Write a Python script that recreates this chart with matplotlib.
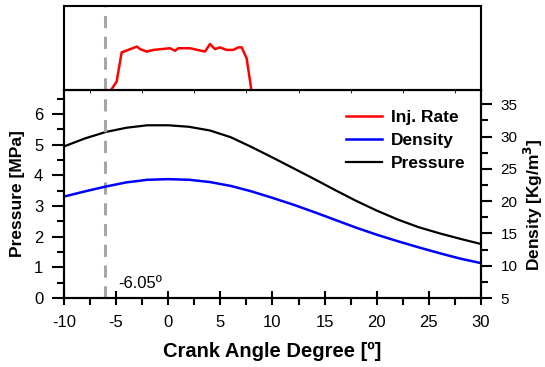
import numpy as np
import matplotlib.pyplot as plt
from matplotlib.ticker import MultipleLocator

plt.rcParams['font.family'] = ['Liberation Sans', 'DejaVu Sans']
plt.rcParams['axes.unicode_minus'] = False

# crank angle (deg) and pressure (MPa), density (kg/m3)
angle = [-10, -8, -6, -4, -2, 0, 2, 4, 6, 8, 10, 12, 14, 16, 18, 20, 22, 24, 26, 28, 30]
pressure = [4.94, 5.2, 5.41, 5.55, 5.63, 5.63, 5.58, 5.46, 5.24, 4.92, 4.58, 4.23, 3.88, 3.52, 3.17, 2.85, 2.56, 2.31, 2.11, 1.93, 1.76]
density = [20.7, 21.5, 22.25, 22.9, 23.3, 23.4, 23.3, 22.95, 22.35, 21.5, 20.5, 19.45, 18.3, 17.1, 15.9, 14.8, 13.8, 12.85, 11.95, 11.1, 10.4]

# injection rate (normalised, top panel)
inj_angle = [-5.6, -4.95, -4.47, -3.0, -2.7, -2.07, -1.43, 0.17, 0.65, 0.97, 2.09, 3.53, 4.0, 4.48, 4.96, 5.6, 6.24, 6.72, 7.05, 7.52, 8.0]
inj_rate = [-0.02, 0.10, 0.45, 0.52, 0.49, 0.46, 0.48, 0.50, 0.47, 0.50, 0.50, 0.46, 0.55, 0.49, 0.51, 0.48, 0.48, 0.51, 0.51, 0.38, -0.02]

soi = -6.05

fig = plt.figure(figsize=(5.45, 3.67), dpi=100)
ax = fig.add_axes([0.1174, 0.188, 0.7651, 0.5668])
top = fig.add_axes([0.1174, 0.7548, 0.7651, 0.2275], sharex=ax)
ax2 = ax.twinx()

# top panel: injection rate
l_inj, = top.plot(inj_angle, inj_rate, color='red', lw=1.8)
top.set_ylim(0, 1)
top.axvline(soi, color='#a6a6a6', lw=2.2, dashes=(4, 2.8))
top.tick_params(left=False, bottom=False, labelleft=False, labelbottom=False)
for s in top.spines.values():
    s.set_linewidth(1.5)

# main panel
l_p, = ax.plot(angle, pressure, color='black', lw=1.6)
l_d, = ax2.plot(angle, density, color='blue', lw=1.8)
ax.axvline(soi, color='#a6a6a6', lw=2.2, dashes=(4, 2.8))
ax.text(-4.8, 0.46, '-6.05º', fontsize=12, va='center', ha='left')

ax.set_xlim(-10, 30)
ax.set_ylim(0, 6.78)
ax2.set_ylim(5, 37.2)

ax.xaxis.set_major_locator(MultipleLocator(5))
ax.xaxis.set_minor_locator(MultipleLocator(2.5))
ax.yaxis.set_major_locator(MultipleLocator(1))
ax.yaxis.set_minor_locator(MultipleLocator(0.5))
ax2.yaxis.set_major_locator(MultipleLocator(5))
ax2.yaxis.set_minor_locator(MultipleLocator(2.5))

ax.tick_params(axis='x', which='major', direction='inout', length=10, width=1.5, labelsize=12, pad=7)
ax.tick_params(axis='x', which='minor', direction='out', length=5, width=1.5)
ax.tick_params(axis='y', which='major', direction='out', length=9, width=1.5, labelsize=12, pad=6)
ax.tick_params(axis='y', which='minor', direction='out', length=5, width=1.5)
ax2.tick_params(axis='y', which='major', direction='out', length=8, width=1.5, labelsize=11, pad=6)
ax2.tick_params(axis='y', which='minor', direction='out', length=5, width=1.5)

for a in (ax, ax2):
    for s in a.spines.values():
        s.set_linewidth(1.5)

ax.set_xlabel('Crank Angle Degree [º]', fontsize=14.5, fontweight='bold', labelpad=9)
ax.set_ylabel('Pressure [MPa]', fontsize=12.5, fontweight='bold', labelpad=6)
ax2.set_ylabel('Density [Kg/m$^\\mathbf{3}$]', fontsize=12.5, fontweight='bold')
ax2.yaxis.set_label_coords(1.097, 0.45)

ax2.legend([l_inj, l_d, l_p], ['Inj. Rate', 'Density', 'Pressure'], loc='upper right',
           bbox_to_anchor=(1.0, 0.98), frameon=False, prop={'weight': 'bold', 'size': 12.5},
           handlelength=2.1, labelspacing=0.45, borderaxespad=0.5, handletextpad=0.5)

plt.savefig('out.png', dpi=100)
